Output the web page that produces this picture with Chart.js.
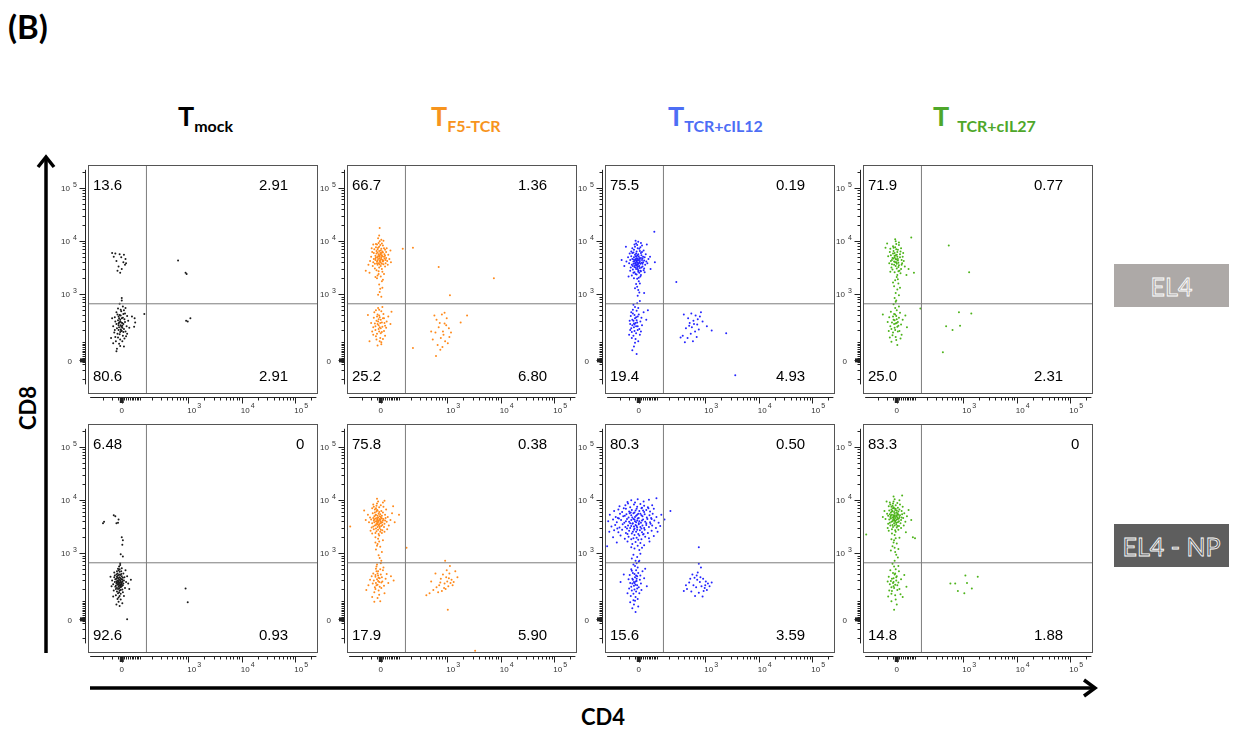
<!DOCTYPE html>
<html lang="en">
<head>
<meta charset="UTF-8">
<title>CD4 / CD8 staining</title>
<script src="https://cdn.jsdelivr.net/npm/chart.js"></script>
<style>
  body { margin: 0; background: #fff; width: 1240px; height: 729px; overflow: hidden; position: relative; }
  canvas.panel { position: absolute; }
  .fig { position: absolute; font-family: Lato, 'Open Sans', sans-serif; font-weight: bold; white-space: nowrap; }
  .title { font-size: 27px; line-height: 32px; top: 100px; }
  .title .sub { font-size: 16px; position: relative; top: 6px; }
  .tag { position: absolute; left: 1114px; width: 115px; height: 43px; display: flex; align-items: center; justify-content: center;
         font-family: Lato, sans-serif; font-size: 25px; color: transparent; -webkit-text-stroke: 0.8px #fff; }
</style>
</head>
<body>
  <div class="fig" style="left:8px;top:6px;font-size:33px;line-height:40px;">(B)</div>

  <!-- column titles -->
  <div class="fig title" style="left:178px;color:#000;">T<span class="sub">mock</span></div>
  <div class="fig title" style="left:431px;color:#f7941d;">T<span class="sub">F5-TCR</span></div>
  <div class="fig title" style="left:668px;color:#4d6ef5;">T<span class="sub">TCR+cIL12</span></div>
  <div class="fig title" style="left:933px;color:#4ea72a;">T<span class="sub" style="margin-left:8px;">TCR+cIL27</span></div>

  <!-- axis names -->
  <div class="fig" style="left:27px;top:408px;font-size:22px;transform:translate(-50%,-50%) rotate(-90deg);">CD8</div>
  <div class="fig" style="left:603px;top:716px;font-size:22px;transform:translate(-50%,-50%);">CD4</div>

  <!-- row tags -->
  <div class="tag" style="top:264px;background:#ada9a7;">EL4</div>
  <div class="tag" style="top:524px;background:#5e5e5e;">EL4 - NP</div>

  <!-- big arrows -->
  <svg width="1240" height="729" style="position:absolute;left:0;top:0;pointer-events:none;">
    <line x1="46" y1="158" x2="46" y2="653" stroke="#000" stroke-width="3.5"/>
    <polyline points="38,167 46,157 54,167" fill="none" stroke="#000" stroke-width="3.5"/>
    <line x1="90" y1="688" x2="1094" y2="688" stroke="#000" stroke-width="3.5"/>
    <polyline points="1084,680 1095,688 1084,696" fill="none" stroke="#000" stroke-width="3.5"/>
  </svg>

<script>
// display units: biexponential axis, 0 -> 1.76, 10^3 -> 3, 10^4 -> 4, 10^5 -> 5
const AXIS_MIN = 1.13, AXIS_MAX = 5.42;
const ZERO_POS = 1.76, LIN_W = 115;
const GATE_CD4 = 2.22, GATE_CD8 = 2.82;

const tickValues = [0, 1e3, 1e4, 1e5];
const tickLabels = ['0', '10^3', '10^4', '10^5'];

const groupColors = ['#1a1a1a', '#ff8a1c', '#2424ff', '#4db31a'];

// quadrant percentages: [upper-left, upper-right, lower-left, lower-right]
const quadMockEl4 = ['13.6', '2.91', '80.6', '2.91'];
const quadF5El4   = ['66.7', '1.36', '25.2', '6.80'];
const quadIl12El4 = ['75.5', '0.19', '19.4', '4.93'];
const quadIl27El4 = ['71.9', '0.77', '25.0', '2.31'];
const quadMockNp  = ['6.48', '0', '92.6', '0.93'];
const quadF5Np    = ['75.8', '0.38', '17.9', '5.90'];
const quadIl12Np  = ['80.3', '0.50', '15.6', '3.59'];
const quadIl27Np  = ['83.3', '0', '14.8', '1.88'];

// events [CD4, CD8] in display units
const mockEl4 = [
  [1.58,3.77],[1.64,3.76],[1.72,3.75],[1.80,3.74],[1.61,3.70],[1.75,3.69],[1.83,3.66],[1.66,3.62],[1.79,3.60],[1.84,3.58],[1.70,3.52],[1.76,3.47],[1.73,3.40],[1.82,3.55],[1.68,3.44],
  [1.74,2.42],[1.71,2.38],[1.77,2.46],[1.69,2.51],[1.80,2.35],[1.73,2.29],[1.76,2.55],[1.66,2.44],[1.82,2.48],[1.72,2.61],[1.78,2.22],[1.70,2.33],[1.75,2.68],[1.63,2.57],[1.85,2.40],[1.68,2.26],[1.79,2.63],[1.73,2.15],[1.81,2.53],[1.67,2.36],
  [1.74,2.71],[1.76,2.31],[1.71,2.47],[1.64,2.49],[1.83,2.30],[1.70,2.58],[1.78,2.77],[1.62,2.28],[1.77,2.12],[1.86,2.59],[1.69,2.19],[1.72,2.82],[1.80,2.70],[1.75,2.39],[1.66,2.66],[1.60,2.40],[1.84,2.21],[1.73,2.52],[1.79,2.44],[1.71,2.07],
  [1.76,2.88],[1.65,2.12],[1.88,2.50],[1.74,2.34],[1.69,2.73],[1.82,2.64],[1.77,2.37],[1.70,2.42],[1.63,2.33],[1.78,2.56],[1.72,2.25],[1.75,2.47],[1.68,2.62],[1.81,2.17],[1.56,2.18],[1.60,2.08],[1.73,2.03],[1.67,1.98],[1.86,2.26],[1.71,2.55],
  [1.79,2.29],[1.74,2.60],[1.77,2.41],[1.70,2.45],[1.75,2.32],[1.73,2.49],[1.64,2.20],[1.83,2.74],[1.58,2.55],[1.76,2.93],[1.80,2.02],[1.90,2.37],
  [2.00,2.55],[2.01,2.47],[1.99,2.39],[1.95,2.58],[2.18,2.63],[1.66,1.93],
  [2.81,3.63],[2.95,3.40],[2.97,3.38],[2.96,2.50],[2.99,2.49],[3.04,2.55]
];

const f5El4 = [
  [1.74,3.70],[1.70,3.78],[1.79,3.64],[1.66,3.72],[1.83,3.75],[1.72,3.58],[1.77,3.85],[1.63,3.66],[1.86,3.68],[1.75,3.92],[1.69,3.61],[1.81,3.56],[1.73,3.81],[1.78,3.73],[1.60,3.79],[1.88,3.62],[1.71,3.66],[1.76,3.53],[1.67,3.88],[1.84,3.83],
  [1.74,3.62],[1.80,3.91],[1.65,3.57],[1.72,3.96],[1.78,3.47],[1.70,3.69],[1.82,3.70],[1.68,3.81],[1.75,3.77],[1.62,3.60],[1.90,3.74],[1.73,3.50],[1.77,3.66],[1.71,3.87],[1.85,3.58],[1.66,3.64],[1.79,3.80],[1.74,3.99],[1.58,3.70],[1.87,3.86],
  [1.70,3.55],[1.76,3.74],[1.69,3.93],[1.81,3.63],[1.64,3.84],[1.78,3.57],[1.72,3.75],[1.83,3.67],[1.67,3.69],[1.75,3.60],[1.80,3.78],[1.73,3.89],[1.61,3.53],[1.92,3.66],[1.70,3.63],[1.77,4.02],[1.68,3.76],[1.84,3.52],[1.74,3.67],[1.79,3.71],
  [1.56,3.62],[1.71,4.05],[1.86,3.79],[1.65,3.48],[1.76,3.82],[1.82,3.86],[1.69,3.58],[1.73,3.73],[1.78,3.95],[1.63,3.77],[1.89,3.55],[1.75,3.64],[1.72,3.43],[1.80,3.61],[1.67,3.94],[1.77,3.69],[1.70,3.84],[1.84,3.72],[1.74,3.56],[1.59,3.86],
  [1.81,4.00],[1.66,3.67],[1.76,3.60],[1.71,3.71],[1.94,3.82],[1.53,3.55],[1.79,3.42],[1.73,4.10],[1.68,3.45],[1.85,3.64],[1.62,3.93],[1.77,3.77],[1.74,4.24],[1.48,3.44],[1.55,3.40],[1.95,3.60],
  [1.72,3.38],[1.76,3.33],[1.69,3.30],[1.78,3.24],[1.73,3.18],[1.75,3.10],[1.70,3.35],[1.80,3.27],[1.74,3.04],[1.77,2.95],[1.82,3.38],[1.66,3.32],[1.79,3.12],[1.71,2.99],
  [1.72,2.42],[1.68,2.50],[1.76,2.36],[1.65,2.45],[1.80,2.55],[1.73,2.30],[1.70,2.62],[1.78,2.47],[1.62,2.38],[1.84,2.41],[1.74,2.57],[1.69,2.26],[1.77,2.68],[1.66,2.33],[1.82,2.31],[1.71,2.49],[1.75,2.18],[1.63,2.56],[1.87,2.49],[1.73,2.71],
  [1.79,2.39],[1.67,2.21],[1.72,2.35],[1.81,2.63],[1.58,2.46],[1.76,2.52],[1.70,2.44],[1.84,2.22],[1.64,2.66],[1.74,2.12],[1.78,2.29],[1.69,2.58],[1.90,2.58],[1.60,2.30],[1.75,2.46],[1.71,2.74],[1.83,2.46],[1.66,2.40],[1.77,2.06],[1.73,2.60],
  [1.52,2.61],[1.94,2.44],[1.68,2.15],[1.80,2.16],[1.72,2.53],[1.76,2.27],[1.62,2.24],[1.86,2.37],[1.70,2.04],[1.79,2.76],[1.55,2.12],[1.74,2.38],[1.67,2.70],[1.82,2.55],[1.96,2.67],[1.77,2.10],
  [2.76,2.60],[2.80,2.52],[2.86,2.46],[2.90,2.62],[2.95,2.65],[2.99,2.55],[2.84,2.38],[2.92,2.30],[2.98,2.42],[3.03,2.36],[2.78,2.28],[2.88,2.18],[2.96,2.12],[3.04,2.20],[2.73,2.15],[2.82,2.05],[2.93,2.24],[3.01,2.08],[2.87,1.96],[2.79,1.84],
  [3.25,2.47],[3.37,2.60],[2.70,2.30],[2.95,2.45],[2.91,2.01],[3.07,2.28],
  [2.17,3.85],[2.36,3.87],[2.84,3.51],[3.05,2.98],[3.87,3.30],[2.36,1.99]
];

const il12El4 = [
  [1.73,3.59],[1.70,3.65],[1.77,3.53],[1.66,3.61],[1.80,3.68],[1.74,3.47],[1.69,3.74],[1.78,3.62],[1.63,3.55],[1.83,3.57],[1.72,3.80],[1.75,3.42],[1.67,3.69],[1.81,3.50],[1.71,3.56],[1.76,3.71],[1.64,3.77],[1.86,3.63],[1.73,3.66],[1.79,3.44],
  [1.68,3.51],[1.74,3.86],[1.60,3.64],[1.82,3.79],[1.70,3.38],[1.77,3.60],[1.65,3.46],[1.84,3.70],[1.72,3.54],[1.75,3.75],[1.69,3.58],[1.80,3.36],[1.62,3.71],[1.88,3.55],[1.73,3.92],[1.78,3.49],[1.67,3.83],[1.71,3.63],[1.85,3.45],[1.74,3.67],
  [1.58,3.58],[1.79,3.88],[1.70,3.50],[1.76,3.31],[1.66,3.57],[1.82,3.64],[1.73,3.73],[1.77,3.40],[1.64,3.66],[1.90,3.61],[1.71,3.95],[1.75,3.52],[1.68,3.41],[1.81,3.73],[1.72,3.61],[1.78,3.81],[1.61,3.50],[1.87,3.69],[1.74,3.55],[1.69,3.89],
  [1.76,3.64],[1.63,3.35],[1.83,3.52],[1.70,3.71],[1.79,3.57],[1.66,3.78],[1.73,3.29],[1.85,3.82],[1.71,3.47],[1.77,3.68],[1.56,3.69],[1.80,3.43],[1.68,3.62],[1.75,3.98],[1.92,3.58],[1.72,3.37],[1.64,3.86],[1.78,3.66],[1.69,3.54],[1.82,3.91],
  [1.74,3.63],[1.60,3.44],[1.86,3.48],[1.71,3.76],[1.76,3.24],[1.67,3.65],[1.81,3.59],[1.73,3.51],[1.53,3.61],[1.89,3.75],[1.70,3.59],[1.77,3.85],[1.65,3.53],[1.84,3.60],[1.72,3.70],[1.79,3.33],[1.62,3.80],[1.75,3.45],[1.94,3.66],[1.68,3.93],
  [1.74,3.56],[1.80,3.77],[1.66,3.40],[1.71,3.67],[1.78,3.20],[1.87,3.41],[1.59,3.76],[1.76,3.58],[1.70,4.00],[1.83,3.67],[1.49,3.53],[1.73,3.14],[1.97,3.70],[1.67,3.30],[1.80,3.96],[1.75,3.08],[1.71,3.19],[1.77,3.03],[1.86,3.02],[1.69,3.11],
  [1.74,2.97],[2.05,4.17],[2.06,3.60],[1.44,3.64],[1.52,3.89],[1.91,3.93],[1.98,3.47],[1.57,3.33],
  [1.67,2.45],[1.64,2.52],[1.71,2.40],[1.62,2.36],[1.74,2.58],[1.68,2.31],[1.65,2.64],[1.73,2.47],[1.60,2.44],[1.77,2.35],[1.69,2.55],[1.66,2.22],[1.72,2.69],[1.63,2.29],[1.79,2.49],[1.67,2.38],[1.70,2.16],[1.61,2.59],[1.75,2.74],[1.68,2.61],
  [1.64,2.42],[1.82,2.42],[1.71,2.27],[1.66,2.80],[1.74,2.33],[1.59,2.50],[1.69,2.09],[1.76,2.62],[1.65,2.71],[1.72,2.51],[1.81,2.56],[1.63,2.18],[1.70,2.46],[1.78,2.24],[1.67,2.02],[1.73,2.83],[1.60,2.33],[1.85,2.66],[1.68,2.43],[1.75,2.12],
  [1.62,2.66],[1.71,2.57],[1.80,2.30],[1.66,2.50],[1.93,2.70],[1.58,2.24],[1.74,2.40],[1.69,2.76],[1.64,1.95],[1.72,1.88],[1.78,2.87],[1.90,2.52],
  [2.60,2.62],[2.68,2.55],[2.74,2.64],[2.82,2.60],[2.90,2.58],[2.71,2.46],[2.78,2.50],[2.85,2.43],[2.95,2.49],[3.03,2.40],[2.64,2.36],[2.75,2.38],[2.81,2.30],[2.88,2.34],[2.58,2.22],[2.67,2.18],[2.73,2.26],[2.84,2.20],[2.54,2.19],[2.62,2.10],
  [2.77,2.12],[2.70,2.41],[3.12,2.32],[3.39,2.27],[2.92,2.66],[2.79,2.44],[2.86,2.53],
  [2.46,3.23],[3.56,1.48]
];

const il27El4 = [
  [1.75,3.65],[1.72,3.72],[1.79,3.59],[1.68,3.68],[1.82,3.75],[1.74,3.53],[1.70,3.81],[1.77,3.70],[1.65,3.62],[1.85,3.64],[1.73,3.88],[1.76,3.48],[1.69,3.76],[1.80,3.54],[1.71,3.61],[1.78,3.83],[1.63,3.79],[1.87,3.70],[1.74,3.73],[1.81,3.44],
  [1.67,3.56],[1.75,3.94],[1.60,3.71],[1.84,3.86],[1.72,3.41],[1.78,3.66],[1.66,3.50],[1.86,3.58],[1.73,3.60],[1.77,3.79],[1.70,3.67],[1.83,3.39],[1.64,3.85],[1.89,3.62],[1.74,3.99],[1.79,3.51],[1.69,3.90],[1.72,3.69],[1.84,3.47],[1.76,3.74],
  [1.58,3.95],[1.80,3.92],[1.71,3.55],[1.77,3.36],[1.67,3.64],[1.82,3.69],[1.75,3.84],[1.79,3.43],[1.65,3.73],[1.91,3.52],[1.73,4.03],[1.76,3.57],[1.68,3.46],[1.83,3.80],[1.74,3.66],[1.80,3.97],[1.62,3.58],[1.88,3.77],[1.75,3.60],[1.70,3.87],
  [1.78,3.63],[1.64,3.42],[1.85,3.55],[1.72,3.77],[2.03,4.06],[1.94,3.36],[2.08,3.40],[1.98,3.47],[1.55,3.87],
  [1.76,3.32],[1.73,3.26],[1.79,3.20],[1.71,3.15],[1.77,3.09],[1.74,3.02],[1.80,2.98],[1.72,2.93],[1.78,3.28],[1.69,3.22],[1.75,2.88],[1.82,3.12],
  [1.74,2.45],[1.70,2.52],[1.77,2.39],[1.67,2.47],[1.80,2.56],[1.73,2.33],[1.71,2.63],[1.78,2.48],[1.64,2.40],[1.84,2.43],[1.75,2.59],[1.69,2.28],[1.76,2.70],[1.66,2.35],[1.81,2.31],[1.72,2.51],[1.74,2.20],[1.62,2.57],[1.87,2.52],[1.73,2.74],
  [1.79,2.41],[1.68,2.23],[1.72,2.37],[1.82,2.65],[1.59,2.48],[1.76,2.53],[1.71,2.44],[1.85,2.24],[1.65,2.67],[1.75,2.14],[1.78,2.30],[1.70,2.81],[1.92,2.60],[1.61,2.31],[1.74,2.86],[1.80,2.77],[1.66,2.11],[1.77,2.05],[1.50,2.62],[1.95,2.38],
  [1.69,2.58],[1.83,2.17],[1.73,2.62],[1.76,2.46],[1.63,2.19],
  [2.92,2.66],[3.15,2.64],[2.68,2.40],[2.80,2.33],[2.94,2.41],[2.62,1.91],[2.20,2.73],[2.73,3.91],[3.11,3.41]
];

const mockNp = [
  [1.41,3.56],[1.43,3.59],[1.61,3.71],[1.64,3.69],[1.70,3.63],[1.66,3.56],[1.69,3.57],[1.78,3.24],[1.77,3.16],[1.74,2.98],[1.78,2.94],[1.76,3.30],
  [1.71,2.44],[1.69,2.48],[1.73,2.40],[1.67,2.45],[1.75,2.51],[1.70,2.37],[1.72,2.55],[1.68,2.41],[1.74,2.46],[1.66,2.52],[1.76,2.42],[1.71,2.34],[1.69,2.58],[1.73,2.49],[1.65,2.39],[1.77,2.47],[1.70,2.53],[1.72,2.30],[1.67,2.56],[1.74,2.36],
  [1.68,2.62],[1.75,2.44],[1.71,2.50],[1.63,2.46],[1.78,2.54],[1.69,2.33],[1.73,2.59],[1.66,2.43],[1.76,2.38],[1.70,2.47],[1.72,2.65],[1.64,2.51],[1.79,2.43],[1.71,2.27],[1.74,2.53],[1.67,2.35],[1.75,2.61],[1.69,2.44],[1.62,2.55],[1.77,2.32],
  [1.70,2.68],[1.73,2.42],[1.66,2.60],[1.80,2.49],[1.71,2.39],[1.68,2.49],[1.74,2.24],[1.65,2.33],[1.76,2.57],[1.72,2.45],[1.60,2.42],[1.78,2.40],[1.69,2.71],[1.73,2.36],[1.67,2.28],[1.81,2.55],[1.70,2.42],[1.75,2.66],[1.64,2.37],[1.72,2.20],
  [1.77,2.50],[1.68,2.54],[1.82,2.35],[1.71,2.75],[1.63,2.58],[1.74,2.31],[1.79,2.62],[1.66,2.47],[1.70,2.17],[1.76,2.45],[1.58,2.49],[1.73,2.78],[1.84,2.46],[1.69,2.25],[1.75,2.38],[1.61,2.30],[1.71,2.60],[1.78,2.27],[1.67,2.66],[1.74,2.13],
  [1.86,2.57],[1.65,2.21],[1.72,2.70],[1.57,2.38],[1.80,2.20],[1.70,2.09],[1.76,2.72],[1.62,2.64],[1.88,2.43],[1.68,2.14],[1.73,2.81],[1.77,2.06],[1.93,2.50],[1.55,2.56],[1.66,2.04],[1.90,2.33],[1.72,2.01],[1.83,2.68],[1.60,2.19],
  [1.86,1.76],[2.95,2.34],[2.99,2.08]
];

const f5Np = [
  [1.69,3.59],[1.66,3.65],[1.73,3.54],[1.63,3.61],[1.76,3.68],[1.70,3.49],[1.67,3.72],[1.74,3.62],[1.60,3.56],[1.79,3.58],[1.68,3.78],[1.71,3.44],[1.64,3.69],[1.77,3.51],[1.69,3.66],[1.72,3.74],[1.62,3.50],[1.81,3.64],[1.70,3.57],[1.75,3.40],
  [1.65,3.82],[1.78,3.70],[1.67,3.53],[1.73,3.86],[1.58,3.63],[1.83,3.55],[1.69,3.62],[1.74,3.47],[1.64,3.58],[1.80,3.76],[1.71,3.67],[1.66,3.38],[1.76,3.60],[1.61,3.75],[1.85,3.66],[1.68,3.89],[1.72,3.52],[1.77,3.79],[1.63,3.45],[1.70,3.70],
  [1.79,3.43],[1.56,3.67],[1.74,3.64],[1.67,3.60],[1.82,3.49],[1.69,3.93],[1.75,3.56],[1.60,3.84],[1.87,3.59],[1.71,3.61],[1.65,3.52],[1.78,3.65],[1.68,3.41],[1.73,3.77],[1.62,3.66],[1.84,3.72],[1.70,3.54],[1.76,3.90],[1.66,3.71],[1.80,3.61],
  [1.72,3.36],[1.59,3.48],[1.74,3.69],[1.69,3.81],[1.83,3.40],[1.64,3.63],[1.77,3.57],[1.71,3.97],[1.89,3.68],[1.67,3.46],[1.75,3.73],[1.62,3.91],[1.79,3.53],[1.70,3.64],[1.54,3.58],[1.73,3.33],[1.86,3.82],[1.68,3.55],[1.76,3.44],[1.65,3.76],
  [1.81,3.87],[1.72,3.59],[1.57,3.42],[1.91,3.52],[1.69,4.02],[1.74,3.50],[1.63,3.87],[1.78,3.38],[1.70,3.80],[1.84,3.61],[1.66,3.30],[1.75,3.63],[1.52,3.72],[1.94,3.62],[1.71,3.27],[1.80,3.95],[1.60,3.37],[1.88,3.45],[1.67,3.84],[1.77,3.66],
  [1.73,3.22],[1.97,3.75],[1.48,3.62],[2.02,3.58],[1.19,3.50],[2.10,3.72],[1.45,3.80],[1.99,3.88],[1.83,3.98],
  [1.70,3.17],[1.75,3.12],[1.67,3.07],[1.78,3.02],[1.72,2.96],[1.69,3.14],[1.80,3.24],[1.74,2.91],[1.66,3.20],[1.77,2.86],[2.24,3.10],
  [1.69,2.51],[1.66,2.56],[1.73,2.46],[1.63,2.49],[1.76,2.60],[1.70,2.41],[1.68,2.66],[1.74,2.53],[1.61,2.43],[1.79,2.47],[1.71,2.58],[1.65,2.36],[1.75,2.70],[1.67,2.44],[1.82,2.39],[1.70,2.62],[1.72,2.30],[1.59,2.57],[1.85,2.52],[1.68,2.75],
  [1.77,2.45],[1.64,2.27],[1.71,2.48],[1.80,2.68],[1.56,2.50],[1.74,2.37],[1.69,2.79],[1.87,2.61],[1.62,2.62],[1.73,2.22],[1.78,2.55],[1.66,2.33],[1.90,2.44],[1.70,2.16],[1.76,2.81],[1.53,2.40],[1.83,2.25],[1.67,2.71],[1.72,2.54],[1.95,2.57],
  [1.60,2.18],[1.75,2.10],[1.68,2.40],[1.81,2.73],[1.64,2.09],[1.71,2.66],[2.00,2.49],[1.49,2.31],[1.77,2.35],[1.66,2.59],
  [2.92,2.60],[2.98,2.55],[3.04,2.62],[3.00,2.47],[2.95,2.43],[3.08,2.50],[2.88,2.52],[3.02,2.38],[2.85,2.40],[2.97,2.33],[3.06,2.44],[3.12,2.46],[2.80,2.36],[2.74,2.31],[2.90,2.29],[2.99,2.68],[3.05,2.76],[3.15,2.66],[2.67,2.25],[2.61,2.21],
  [2.83,2.27],[2.94,2.35],[3.01,1.94],[2.78,2.62],[3.19,2.55],[2.96,2.86],[3.03,2.53],[2.87,2.45],[3.10,2.40],[2.70,2.47],
  [3.52,1.17]
];

const il12Np = [
  [1.62,3.99],[1.74,4.01],[1.85,3.97],[1.55,3.96],[1.95,4.00],[2.09,4.03],[1.69,3.95],
  [1.40,3.88],[1.51,3.90],[1.60,3.86],[1.67,3.91],[1.73,3.87],[1.79,3.92],[1.86,3.89],[1.93,3.86],[2.01,3.90],[1.56,3.93],[1.82,3.85],
  [1.30,3.79],[1.38,3.82],[1.45,3.77],[1.52,3.83],[1.58,3.78],[1.63,3.81],[1.68,3.76],[1.72,3.83],[1.77,3.79],[1.81,3.84],[1.86,3.77],[1.90,3.81],[1.97,3.78],[2.04,3.83],[1.48,3.84],[1.70,3.80],[1.84,3.80],[1.61,3.76],[1.94,3.84],
  [1.22,3.72],[1.33,3.68],[1.41,3.74],[1.47,3.69],[1.53,3.73],[1.57,3.67],[1.62,3.71],[1.66,3.75],[1.69,3.68],[1.73,3.72],[1.76,3.66],[1.79,3.74],[1.83,3.69],[1.87,3.73],[1.91,3.67],[1.96,3.71],[2.02,3.74],[2.09,3.68],[2.18,3.72],[1.37,3.66],
  [1.59,3.75],[1.71,3.70],[1.81,3.71],[1.64,3.67],[1.99,3.66],[1.75,3.74],[1.50,3.70],
  [1.19,3.60],[1.28,3.63],[1.35,3.58],[1.43,3.62],[1.49,3.57],[1.54,3.64],[1.58,3.59],[1.62,3.62],[1.65,3.56],[1.68,3.63],[1.71,3.58],[1.74,3.65],[1.77,3.60],[1.80,3.57],[1.84,3.63],[1.88,3.59],[1.92,3.64],[1.97,3.58],[2.05,3.61],[2.13,3.57],
  [2.24,3.63],[1.39,3.65],[1.60,3.56],[1.73,3.61],[1.69,3.60],[1.82,3.61],[1.66,3.64],[1.76,3.56],[1.52,3.60],[1.90,3.56],[2.00,3.64],
  [1.25,3.50],[1.32,3.53],[1.40,3.48],[1.46,3.54],[1.51,3.49],[1.56,3.52],[1.60,3.47],[1.64,3.55],[1.67,3.50],[1.70,3.53],[1.73,3.48],[1.76,3.54],[1.79,3.49],[1.83,3.52],[1.86,3.47],[1.90,3.53],[1.95,3.49],[2.01,3.52],[2.08,3.47],[2.16,3.51],
  [1.72,3.51],[1.62,3.51],[1.81,3.46],[1.36,3.46],[1.54,3.46],[1.68,3.46],[1.98,3.55],
  [1.21,3.40],[1.30,3.43],[1.38,3.39],[1.45,3.44],[1.52,3.38],[1.58,3.42],[1.63,3.37],[1.67,3.44],[1.71,3.40],[1.75,3.36],[1.78,3.43],[1.82,3.39],[1.87,3.44],[1.93,3.38],[2.00,3.42],[2.11,3.40],[1.73,3.44],[1.65,3.40],[1.55,3.36],[1.85,3.36],
  [1.28,3.30],[1.42,3.33],[1.50,3.27],[1.57,3.31],[1.62,3.26],[1.68,3.34],[1.72,3.29],[1.77,3.33],[1.81,3.26],[1.88,3.31],[1.95,3.28],[2.04,3.32],[1.66,3.28],[1.75,3.25],[1.84,3.35],
  [1.35,3.20],[1.55,3.22],[1.64,3.17],[1.70,3.21],[1.74,3.14],[1.79,3.19],[1.86,3.15],[1.96,3.22],[1.68,3.09],[1.77,3.06],[1.62,3.11],[1.17,3.13],[1.82,3.10],
  [1.66,2.97],[1.73,2.93],[1.79,2.99],[1.70,2.86],[1.63,2.90],[1.76,2.84],
  [2.35,3.79],[2.88,3.11],
  [1.67,2.46],[1.64,2.52],[1.70,2.41],[1.62,2.37],[1.73,2.57],[1.68,2.32],[1.65,2.63],[1.72,2.48],[1.60,2.44],[1.76,2.36],[1.69,2.55],[1.66,2.24],[1.71,2.68],[1.63,2.30],[1.78,2.50],[1.67,2.39],[1.70,2.18],[1.59,2.59],[1.74,2.73],[1.68,2.61],
  [1.64,2.43],[1.80,2.43],[1.71,2.28],[1.66,2.79],[1.73,2.34],[1.57,2.51],[1.69,2.11],[1.75,2.63],[1.62,2.70],[1.72,2.52],[1.79,2.58],[1.61,2.20],[1.70,2.47],[1.77,2.25],[1.67,2.04],[1.72,2.81],[1.58,2.34],[1.83,2.66],[1.68,2.44],[1.74,2.14],
  [1.63,2.67],[1.71,2.58],[1.81,2.31],[1.65,2.50],[1.88,2.71],[1.55,2.25],[1.73,2.40],[1.69,2.76],[1.64,1.97],[1.70,1.90],[1.77,2.86],[1.86,2.53],[1.48,2.60],[1.66,2.12],[1.75,2.00],[1.60,2.08],[1.42,2.46],[1.91,2.38],
  [2.88,2.80],[2.92,2.73],[2.86,2.64],[2.76,2.60],[2.80,2.54],[2.85,2.50],[2.90,2.46],[2.96,2.52],[3.01,2.47],[3.05,2.43],[2.70,2.45],[2.78,2.40],[2.83,2.36],[2.93,2.38],[2.99,2.35],[3.08,2.38],[3.12,2.45],[2.66,2.33],[2.60,2.29],[2.74,2.28],
  [2.88,2.26],[2.97,2.29],[2.81,2.20],[2.95,2.19],[3.03,2.31],[2.72,2.52],[2.84,2.58],[3.00,2.40],[2.91,2.55],[2.64,2.40]
];

const il27Np = [
  [1.70,3.66],[1.67,3.72],[1.74,3.61],[1.64,3.68],[1.77,3.75],[1.71,3.56],[1.68,3.79],[1.75,3.69],[1.62,3.63],[1.80,3.65],[1.69,3.84],[1.72,3.52],[1.65,3.76],[1.78,3.58],[1.70,3.71],[1.73,3.81],[1.63,3.57],[1.82,3.71],[1.71,3.63],[1.76,3.48],
  [1.66,3.87],[1.79,3.78],[1.68,3.60],[1.74,3.90],[1.60,3.70],[1.84,3.62],[1.70,3.68],[1.75,3.54],[1.65,3.65],[1.81,3.82],[1.72,3.74],[1.67,3.45],[1.77,3.67],[1.62,3.80],[1.86,3.73],[1.69,3.93],[1.73,3.59],[1.78,3.85],[1.64,3.52],[1.71,3.77],
  [1.80,3.51],[1.58,3.74],[1.75,3.71],[1.68,3.67],[1.83,3.56],[1.70,3.97],[1.76,3.63],[1.61,3.88],[1.88,3.66],[1.72,3.69],[1.66,3.59],[1.79,3.72],[1.69,3.49],[1.74,3.83],[1.63,3.73],[1.85,3.79],[1.71,3.61],[1.77,3.94],[1.67,3.78],[1.81,3.68],
  [1.73,3.43],[1.60,3.55],[1.75,3.76],[1.70,3.86],[1.84,3.47],[1.65,3.70],[1.78,3.64],[1.72,4.01],[1.90,3.75],[1.68,3.53],[1.76,3.80],[1.63,3.95],[1.80,3.60],[1.71,3.70],[1.55,3.64],[1.74,3.40],[1.87,3.87],[1.69,3.62],[1.77,3.51],[1.66,3.82],
  [1.82,3.91],[1.73,3.66],[1.59,3.47],[1.92,3.59],[1.70,4.06],[1.75,3.57],[1.64,3.91],[1.79,3.44],[1.71,3.84],[1.85,3.67],[1.67,3.37],[1.76,3.70],[1.53,3.79],[1.95,3.69],[1.72,3.34],[1.81,3.99],[1.61,3.42],[1.89,3.52],[1.68,3.89],[1.78,3.73],
  [1.74,3.28],[1.98,3.81],[1.50,3.68],[2.03,3.62],[1.19,3.35],[2.10,3.28],[1.86,4.08],[1.57,3.97],[1.93,3.39],[2.06,3.30],
  [1.71,3.24],[1.76,3.18],[1.68,3.13],[1.79,3.08],[1.73,3.02],[1.70,3.20],[1.81,3.29],[1.75,2.97],[1.66,3.26],[1.78,2.92],[1.72,3.10],[1.65,3.05],
  [1.70,2.46],[1.67,2.52],[1.73,2.41],[1.65,2.48],[1.76,2.57],[1.71,2.35],[1.69,2.63],[1.75,2.49],[1.63,2.42],[1.79,2.45],[1.72,2.60],[1.67,2.29],[1.74,2.70],[1.66,2.36],[1.81,2.33],[1.70,2.53],[1.73,2.21],[1.61,2.56],[1.84,2.51],[1.71,2.75],
  [1.77,2.40],[1.66,2.24],[1.70,2.38],[1.80,2.66],[1.59,2.47],[1.75,2.55],[1.69,2.44],[1.83,2.23],[1.64,2.68],[1.74,2.13],[1.77,2.31],[1.68,2.80],[1.90,2.59],[1.62,2.30],[1.72,2.86],[1.79,2.76],[1.66,2.10],[1.76,2.04],[1.94,2.37],[1.71,1.94],
  [1.87,2.18],[1.73,2.62],[1.60,2.19],
  [2.76,2.43],[2.85,2.43],[2.90,2.29],[3.02,2.25],[3.16,2.34],[3.04,2.58],[3.27,2.56],[3.07,2.44]
];

// biexponential position of a raw value, only used for the axis tick marks
function disp(v) {
  return ZERO_POS + (3 - ZERO_POS) * Math.asinh(v / LIN_W) / Math.asinh(1000 / LIN_W);
}

const minorValues = [-10, -20, -50, -100];
for (let m = 1; m <= 9; m++) { minorValues.push(m * 10); if (m > 1) minorValues.push(m * 100, m * 1e3, m * 1e4); }
minorValues.push(100, 2e5);
const majorPos = tickValues.map(disp);
const minorPos = minorValues.map(disp).filter(p => p > AXIS_MIN + 0.05 && p < AXIS_MAX - 0.05);

// frame, quadrant numbers and FlowJo style axes
const flowFrame = {
  id: 'flowFrame',
  afterDraw(chart, args, opts) {
    const { ctx, chartArea: a, scales: { x, y } } = chart;
    ctx.save();
    ctx.strokeStyle = '#555';
    ctx.lineWidth = 1;
    ctx.strokeRect(Math.round(a.left) + 0.5, Math.round(a.top) + 0.5, Math.round(a.width) - 1, Math.round(a.height) - 1);

    ctx.strokeStyle = '#222';
    ctx.fillStyle = '#222';
    const ax = Math.round(a.left) - 3 + 0.5;
    const ay = Math.round(a.bottom) + 3 + 0.5;
    ctx.beginPath();
    ctx.moveTo(ax, y.getPixelForValue(5.33)); ctx.lineTo(ax, y.getPixelForValue(1.31));
    ctx.moveTo(x.getPixelForValue(1.17), ay); ctx.lineTo(x.getPixelForValue(5.39), ay);
    minorPos.forEach(p => {
      const py = Math.round(y.getPixelForValue(p)) + 0.5;
      const px = Math.round(x.getPixelForValue(p)) + 0.5;
      ctx.moveTo(ax, py); ctx.lineTo(ax - 3, py);
      ctx.moveTo(px, ay); ctx.lineTo(px, ay + 3);
    });
    majorPos.forEach(p => {
      const py = Math.round(y.getPixelForValue(p)) + 0.5;
      const px = Math.round(x.getPixelForValue(p)) + 0.5;
      ctx.moveTo(ax, py); ctx.lineTo(ax - 6, py);
      ctx.moveTo(px, ay); ctx.lineTo(px, ay + 6);
    });
    ctx.stroke();
    // heavy mark at zero
    ctx.fillRect(ax - 5.5, y.getPixelForValue(majorPos[0]) - 2, 5, 4);
    ctx.fillRect(x.getPixelForValue(majorPos[0]) - 2, ay, 4, 5.5);

    // tick labels
    ctx.fillStyle = '#333';
    tickLabels.forEach((lab, i) => {
      const [base, exp] = lab.split('^');
      const py = y.getPixelForValue(majorPos[i]);
      const px = x.getPixelForValue(majorPos[i]);
      ctx.font = '8px "Liberation Sans", Arial, sans-serif';
      ctx.textBaseline = 'middle';
      ctx.textAlign = 'right';
      ctx.fillText(base, a.left - (exp ? 18 : 16), py + 1);
      ctx.textAlign = exp ? 'left' : 'center';
      ctx.textBaseline = 'alphabetic';
      ctx.fillText(base, exp ? px - 1 : px, a.bottom + 19);
      if (exp) {
        ctx.font = '7px "Liberation Sans", Arial, sans-serif';
        ctx.textAlign = 'left';
        ctx.fillText(exp, a.left - 15, py - 1);
        ctx.fillText(exp, px + 9, a.bottom + 14);
      }
    });

    // quadrant percentages
    const q = opts.quadrants;
    ctx.font = '15px "Liberation Sans", Arial, sans-serif';
    ctx.fillStyle = '#000';
    ctx.textAlign = 'left';
    ctx.textBaseline = 'alphabetic';
    const rx = s => a.left + (s.length === 1 ? 208 : 171);
    ctx.fillText(q[0], a.left + 5, a.top + 24.5);
    ctx.fillText(q[1], rx(q[1]), a.top + 24.5);
    ctx.fillText(q[2], a.left + 5, a.top + 216);
    ctx.fillText(q[3], rx(q[3]), a.top + 216);
    ctx.restore();
  }
};

const boxLefts = [88, 347, 605, 863];
const boxTops = [165, 424];
const PAD = { left: 32, top: 8, right: 14, bottom: 24 };

const panels = [
  { pts: mockEl4, quad: quadMockEl4, col: 0, row: 0 },
  { pts: f5El4,   quad: quadF5El4,   col: 1, row: 0 },
  { pts: il12El4, quad: quadIl12El4, col: 2, row: 0 },
  { pts: il27El4, quad: quadIl27El4, col: 3, row: 0 },
  { pts: mockNp,  quad: quadMockNp,  col: 0, row: 1 },
  { pts: f5Np,    quad: quadF5Np,    col: 1, row: 1 },
  { pts: il12Np,  quad: quadIl12Np,  col: 2, row: 1 },
  { pts: il27Np,  quad: quadIl27Np,  col: 3, row: 1 }
];

panels.forEach(p => {
  const cv = document.createElement('canvas');
  cv.className = 'panel';
  cv.width = PAD.left + 230 + PAD.right;
  cv.height = PAD.top + 229 + PAD.bottom;
  cv.style.left = (boxLefts[p.col] - PAD.left) + 'px';
  cv.style.top = (boxTops[p.row] - PAD.top) + 'px';
  document.body.appendChild(cv);

  const gateLine = { type: 'line', showLine: true, borderColor: '#7d7d7d', borderWidth: 1, pointRadius: 0, order: 0 };
  new Chart(cv, {
    type: 'scatter',
    data: {
      datasets: [
        { data: p.pts.map(d => ({ x: d[0], y: d[1] })), pointRadius: 1, pointBorderWidth: 0,
          pointBackgroundColor: groupColors[p.col], order: 1 },
        { ...gateLine, data: [{ x: GATE_CD4, y: AXIS_MIN }, { x: GATE_CD4, y: AXIS_MAX }] },
        { ...gateLine, data: [{ x: AXIS_MIN, y: GATE_CD8 }, { x: AXIS_MAX, y: GATE_CD8 }] }
      ]
    },
    options: {
      responsive: false,
      animation: false,
      devicePixelRatio: 1,
      events: [],
      layout: { padding: PAD },
      scales: {
        x: { type: 'linear', min: AXIS_MIN, max: AXIS_MAX, display: false },
        y: { type: 'linear', min: AXIS_MIN, max: AXIS_MAX, display: false }
      },
      plugins: {
        legend: { display: false },
        tooltip: { enabled: false },
        flowFrame: { quadrants: p.quad }
      }
    },
    plugins: [flowFrame]
  });
});
</script>
</body>
</html>
